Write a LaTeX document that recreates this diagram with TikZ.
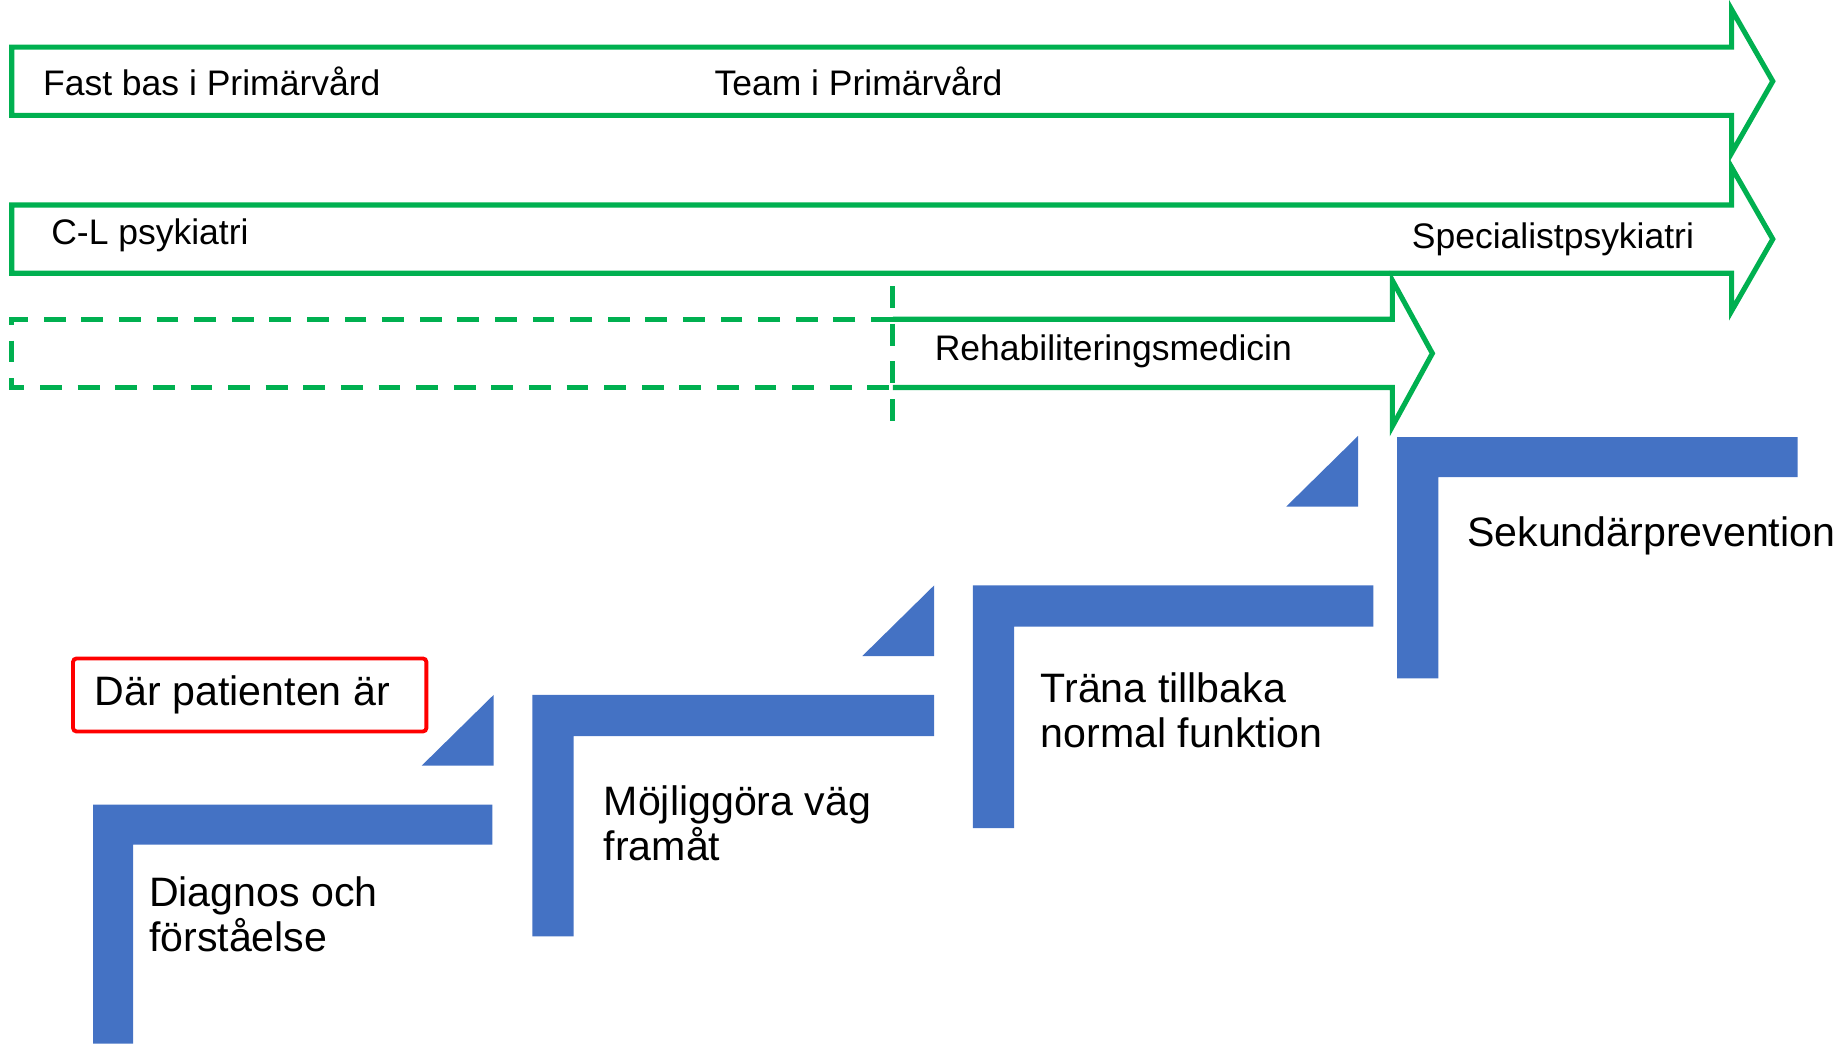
\documentclass[tikz,border=0pt]{standalone}
\usepackage{fontspec}
\setmainfont{Liberation Sans}
\definecolor{pgreen}{HTML}{00B050}
\definecolor{pblue}{HTML}{4472C4}
\definecolor{pred}{HTML}{FF0000}
\tikzset{
  track/.style={draw=pgreen, line width=1.45pt, line join=miter},
  trackdash/.style={track, dash pattern=on 6.2pt off 4.5pt},
  lbl/.style={anchor=west, inner sep=0pt, font=\fontsize{10.1}{12}\selectfont},
  stairlbl/.style={anchor=west, inner sep=0pt, align=left, font=\fontsize{11.7}{12.8}\selectfont},
  stair/.style={fill=pblue},
}
\begin{document}
\begin{tikzpicture}[x=0.01178cm, y=-0.01178cm]
    \useasboundingbox (0,0) rectangle (1568,886);
    % green tracks
    \draw [track] (10,40) -- (1470,40) -- (1470,8) -- (1505,69) -- (1470,130) -- (1470,98) -- (10,98) -- cycle;
    \draw [track] (10,174) -- (1470,174) -- (1470,142) -- (1505,203) -- (1470,264) -- (1470,232) -- (10,232) -- cycle;
    \draw [track] (758,271) -- (1182,271) -- (1182,238) -- (1216,300) -- (1182,362) -- (1182,329) -- (758,329);
    \draw [trackdash] (758,271) -- (10,271) -- (10,329) -- (758,329);
    \draw [trackdash] (758,243) -- (758,358);
    \node (fastbas) [lbl] at (36,69) {Fast bas i Primärvård};
    \node (team) [lbl] at (606,69) {Team i Primärvård};
    \node (clpsyk) [lbl] at (43,200) {C-L psykiatri};
    \node (specpsyk) [lbl] at (1198,203) {Specialistpsykiatri};
    \node (rehab) [lbl] at (793,298) {Rehabiliteringsmedicin};

    % blue stairs
    \fill [stair] (79,683) -- (418,683) -- (418,717) -- (113,717) -- (113,886) -- (79,886) -- cycle;
    \fill [stair] (452,590) -- (793,590) -- (793,625) -- (487,625) -- (487,795) -- (452,795) -- cycle;
    \fill [stair] (826,497) -- (1166,497) -- (1166,532) -- (861,532) -- (861,703) -- (826,703) -- cycle;
    \fill [stair] (1186,371) -- (1526,371) -- (1526,405) -- (1221,405) -- (1221,576) -- (1186,576) -- cycle;
    \fill [stair] (358,650) -- (419,650) -- (419,590) -- cycle;
    \fill [stair] (732,557) -- (793,557) -- (793,497) -- cycle;
    \fill [stair] (1092,430) -- (1153,430) -- (1153,370) -- cycle;
    \node (diagnos) [stairlbl] at (126,776) {Diagnos och\\förståelse};
    \node (mojlig) [stairlbl] at (512,699) {Möjliggöra väg\\framåt};
    \node (trana) [stairlbl] at (883,603) {Träna tillbaka\\normal funktion};
    \node (sekund) [stairlbl] at (1245,455) {Sekundärprevention};

    % start box
    \draw [pred, line width=1.1pt, rounded corners=1pt] (62,559) rectangle (362,621);
    \node (patient) [stairlbl] at (80,590) {Där patienten är};
\end{tikzpicture}
\end{document}
